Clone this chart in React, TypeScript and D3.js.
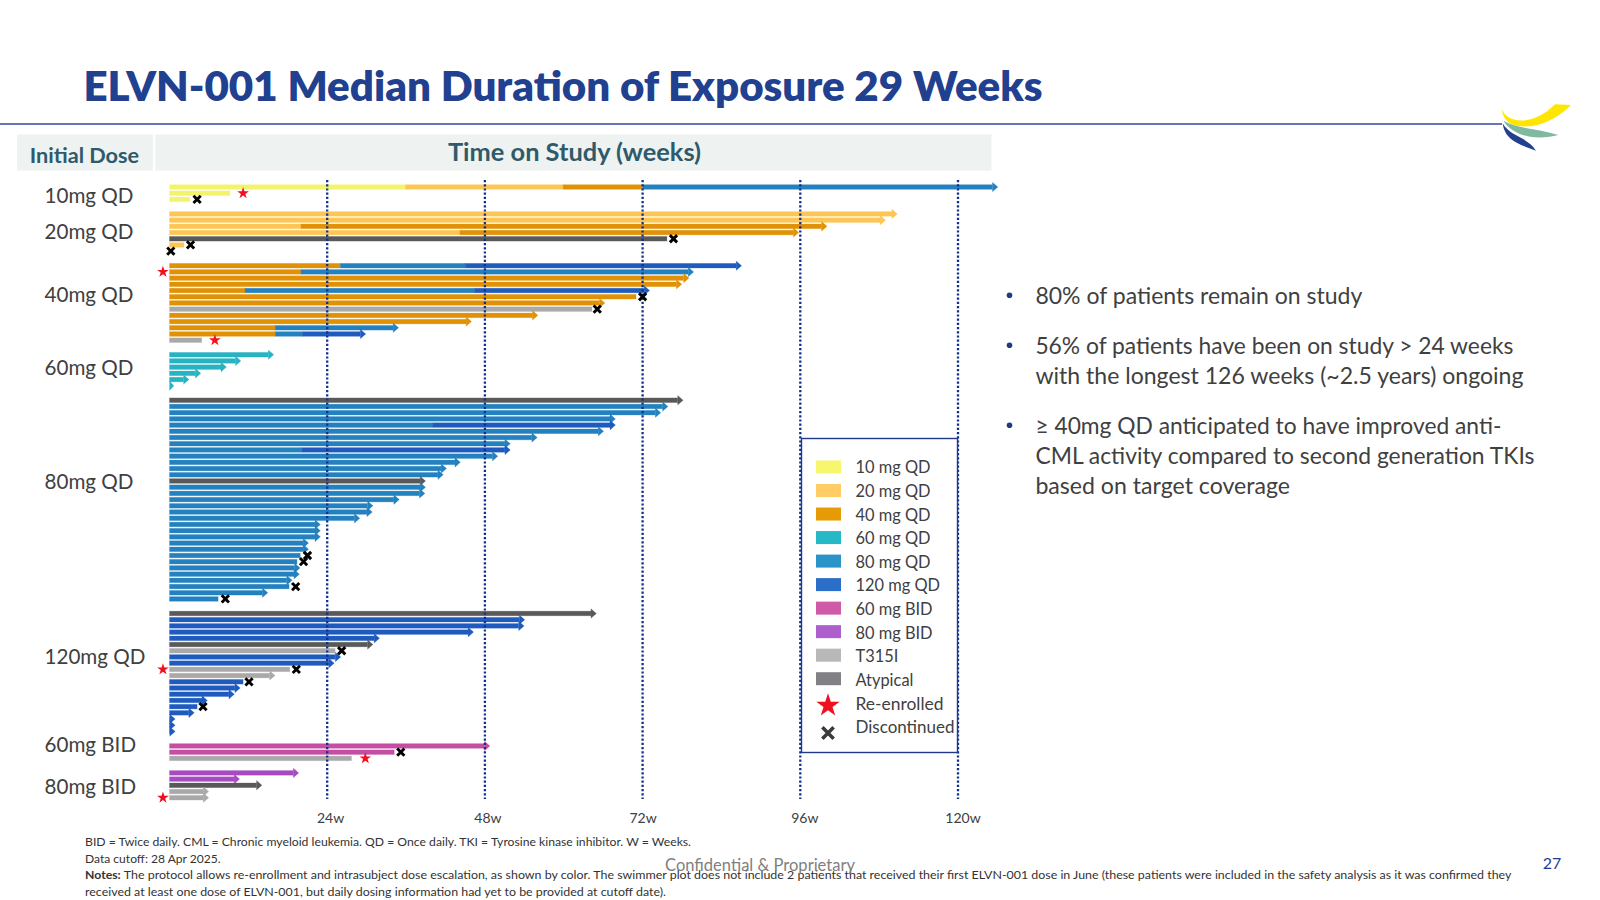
import React from "react";
import * as d3 from "d3";

type Seg = [string, number];
type Row = { segs: Seg[]; arrow?: boolean; x?: number; star?: number };

const doseLabels = ["10 mg QD", "20 mg QD", "40 mg QD", "60 mg QD", "80 mg QD", "120 mg QD", "60 mg BID", "80 mg BID", "T315I", "Atypical"];
const doseKeys = ["d10", "d20", "d40", "d60", "d80", "d120", "b60", "b80", "t", "a"];
const barColors = ["#f4f46c", "#fdc654", "#e09105", "#27b3c2", "#2481bf", "#1f5bbf", "#c44ea3", "#a64cc0", "#a9a9a9", "#595959"];
const legendColors = ["#f7f66f", "#ffcc66", "#e69a05", "#27b8c8", "#2a93c8", "#2a6ec8", "#cf5aa8", "#ad5fcc", "#b8b8b8", "#808085"];
const weekTicks = [24, 48, 72, 96, 120];
const tickLabelShift = [3.4, 3, 0.4, 4.5, 5];

const a = (k: string, w: number): Row => ({ segs: [[k, w]], arrow: true });

const rows10: Row[] = [
  { segs: [["d10", 35.9], ["d20", 59.9], ["d40", 72], ["d80", 126]], arrow: true },
  { segs: [["d10", 9.2]], star: 11.2 },
  { segs: [["d10", 3.1]], x: 4.2 },
];
const rows20: Row[] = [
  a("d20", 110.7),
  a("d20", 108.9),
  { segs: [["d20", 20], ["d40", 100]], arrow: true },
  { segs: [["d20", 44.2], ["d40", 95.7]], arrow: true },
  { segs: [["a", 75.7]], x: 76.7 },
  { segs: [["d20", 2.2]], x: 3.2 },
  { segs: [], x: 0.2 },
];
const rows40: Row[] = [
  { segs: [["d40", 26], ["d80", 45], ["d120", 87]], arrow: true },
  { segs: [["d40", 20], ["d80", 79.7]], arrow: true, star: -1 },
  a("d40", 79),
  a("d40", 77.9),
  { segs: [["d40", 11.5], ["d80", 46.4], ["d120", 73]], arrow: true },
  { segs: [["d40", 71]], x: 72 },
  a("d40", 66.2),
  { segs: [["t", 64.3]], x: 65.1 },
  a("d40", 56),
  a("d40", 45.9),
  { segs: [["d40", 16.1], ["d80", 34.8]], arrow: true },
  { segs: [["d40", 16.1], ["d80", 20.2], ["d120", 29.8]], arrow: true },
  { segs: [["t", 4.9]], star: 6.9 },
];
const rows60: Row[] = [a("d60", 15.8), a("d60", 10.8), a("d60", 8.6), a("d60", 4.7), a("d60", 2.9), a("d60", 0.6)];
const rows80: Row[] = [
  a("a", 78.1),
  a("d80", 75.8),
  a("d80", 74.7),
  a("d80", 67.8),
  { segs: [["d80", 40.1], ["d120", 67.8]], arrow: true },
  a("d80", 66),
  a("d80", 55.9),
  a("d80", 51.8),
  { segs: [["d80", 20.1], ["d120", 51.8]], arrow: true },
  a("d80", 49.9),
  a("d80", 44.2),
  a("d80", 42.1),
  a("d80", 41.6),
  a("a", 38.9),
  a("d80", 38.9),
  a("d80", 38.8),
  a("d80", 34.9),
  a("d80", 30.9),
  a("d80", 30.8),
  a("d80", 28.9),
  a("d80", 22.9),
  a("d80", 22.9),
  a("d80", 22.9),
  a("d80", 21.1),
  a("d80", 21.1),
  { segs: [["d80", 19.9]], x: 21 },
  { segs: [["d80", 19.4]], x: 20.4 },
  a("d80", 19.8),
  a("d80", 19.7),
  a("d80", 18.6),
  { segs: [["d80", 18.2]], x: 19.2 },
  a("d80", 14.9),
  { segs: [["d80", 7.4]], x: 8.5 },
];
const rows120: Row[] = [
  a("a", 64.9),
  a("d120", 54),
  a("d120", 53.9),
  a("d120", 46.2),
  a("d120", 31.9),
  a("a", 30.9),
  { segs: [["t", 25.2]], x: 26.2 },
  a("d120", 26),
  a("d120", 25),
  { segs: [["t", 18.3]], x: 19.3, star: -1 },
  a("t", 16),
  { segs: [["d120", 11.2]], x: 12.1 },
  a("d120", 10.7),
  a("d120", 9.8),
  a("d120", 5.7),
  { segs: [["d120", 4.2]], x: 5.1 },
  a("d120", 3.7),
  a("d120", 0.8),
  a("d120", 0.8),
  a("d120", 0.8),
];
const rowsB60: Row[] = [
  a("b60", 48.7),
  { segs: [["b60", 34.2]], x: 35.2 },
  { segs: [["t", 27.7]], star: 29.8 },
];
const rowsB80: Row[] = [
  a("b80", 19.6),
  a("b80", 10.6),
  a("a", 14),
  a("t", 5.9),
  { segs: [["t", 5.9]], arrow: true, star: -1 },
];

const groupLabels = ["10mg QD", "20mg QD", "40mg QD", "60mg QD", "80mg QD", "120mg QD", "60mg BID", "80mg BID"];
const groupLabelSlots = [1.35, 7.28, 17.35, 29.05, 47.5, 75.7, 89.75, 96.65];
const groups = [rows10, rows20, rows40, rows60, rows80, rows120, rowsB60, rowsB80];

const bullets = [
  ["80% of patients remain on study"],
  ["56% of patients have been on study > 24 weeks", "with the longest 126 weeks (~2.5 years) ongoing"],
  ["≥ 40mg QD anticipated to have improved anti-", "CML activity compared to second generation TKIs", "based on target coverage"],
];
const bulletWidths = [[327], [478, 488], [466, 499, 254.6]];
const bulletYs = [[295.7], [345.7, 375.7], [425.7, 455.7, 486]];

const FONT = "Lato, 'Noto Sans', sans-serif";
const NAVY = "#1f3a8a";
const x = d3.scaleLinear().domain([0, 120]).range([169.5, 958]);
const GAP = 2.335;
const PITCH = 6.21;
const y = d3.scaleLinear().domain([0, 1]).range([187, 187 + PITCH]);
const colorOf = d3.scaleOrdinal<string, string>().domain(doseKeys).range(barColors);
const legendSwatchY = d3.scaleLinear().domain([0, 9]).range([467, 678.7]);
const legendTextY = d3.scaleLinear().domain([0, 9]).range([467.7, 680]);

const placed: { row: Row; slot: number }[] = [];
let cursor = 0;
groups.forEach((g, gi) => {
  if (gi > 0) cursor += GAP - 1;
  g.forEach((row) => {
    placed.push({ row, slot: cursor });
    cursor += 1;
  });
});

const starPath = d3.symbol().type(d3.symbolStar);
const crossPath = d3.symbol().type(d3.symbolX);

function Cross({ cx, cy, size = 36, w = 2.9, color = "#000" }: { cx: number; cy: number; size?: number; w?: number; color?: string }) {
  return <path transform={`translate(${cx},${cy})`} d={crossPath.size(size)() || ""} fill="none" stroke={color} strokeWidth={w} />;
}
function Star({ cx, cy, size = 42 }: { cx: number; cy: number; size?: number }) {
  return <path transform={`translate(${cx},${cy})`} d={starPath.size(size)() || ""} fill="#f01020" />;
}

function Swimmer({ row, slot }: { row: Row; slot: number }) {
  const cy = y(slot);
  let start = 0;
  const last = row.segs.length - 1;
  return (
    <g>
      {row.segs.map(([k, end], i) => {
        const x0 = x(start);
        const tipX = x(end);
        const hasHead = row.arrow && i === last;
        const x1 = hasHead ? Math.max(x0, tipX - 5) : tipX;
        start = end;
        const c = colorOf(k);
        return (
          <g key={i}>
            <rect x={x0} y={cy - 2.3} width={Math.max(0, x1 - x0)} height={4.6} fill={c} stroke={c} strokeOpacity={0.35} strokeWidth={0.8} />
            {hasHead && <polygon points={`${x1},${cy - 4.8} ${tipX + 0.5},${cy} ${x1},${cy + 4.8}`} fill={c} stroke={c} strokeOpacity={0.3} strokeWidth={0.6} />}
          </g>
        );
      })}
    </g>
  );
}

export default function App() {
  return (
    <svg width={1600} height={900} viewBox="0 0 1600 900" style={{ position: "absolute", left: 0, top: 0, display: "block", background: "#fff" }} fontFamily={FONT}>
      <text x={83.5} y={101} fontSize={42} fontWeight={800} fill="#21408f" textLength={959} lengthAdjust="spacingAndGlyphs">
        ELVN-001 Median Duration of Exposure 29 Weeks
      </text>
      <line x1={0} x2={1502} y1={124} y2={124} stroke="#2f4a9c" strokeWidth={1.6} />
      <g transform="translate(1440,90) scale(0.3333)">
        <path d="M185,58 C205,105 285,105 345,43 L393,45 C340,100 265,122 215,103 C198,95 188,78 185,58 Z" fill="#ffe600" />
        <path d="M190,92 C235,118 300,116 355,135 C300,150 225,145 190,92 Z" fill="#7fb99f" />
        <path d="M188,100 C210,140 262,140 288,182 C245,165 195,155 188,100 Z" fill="#22408f" />
      </g>

      <rect x={17} y={134.5} width={135.8} height={36} fill="#eef2f1" />
      <rect x={155.5} y={134.5} width={836} height={36} fill="#eef2f1" />
      <text x={29.7} y={163} fontSize={21} fontWeight={700} fill="#2f5a6b" textLength={109.5} lengthAdjust="spacingAndGlyphs">Initial Dose</text>
      <text x={448} y={160.5} fontSize={24} fontWeight={700} fill="#2f5a6b" textLength={253} lengthAdjust="spacingAndGlyphs">Time on Study (weeks)</text>

      {groupLabels.map((t, i) => (
        <text key={t} x={44.5} y={y(groupLabelSlots[i])} dy="0.35em" fontSize={20.6} fill="#404040">{t}</text>
      ))}

      {placed.map((p, i) => <Swimmer key={i} row={p.row} slot={p.slot} />)}

      {weekTicks.map((w) => (
        <line key={w} x1={x(w)} x2={x(w)} y1={180} y2={799} stroke="#12308a" strokeWidth={2.3} strokeDasharray="2.2 2" />
      ))}

      {placed.map((p, i) => (
        <g key={i}>
          {p.row.x !== undefined && <Cross cx={x(p.row.x)} cy={y(p.slot)} />}
          {p.row.star !== undefined && <Star cx={x(p.row.star)} cy={y(p.slot)} />}
        </g>
      ))}

      {weekTicks.map((w, i) => (
        <text key={w} x={x(w) + tickLabelShift[i]} y={822.5} textAnchor="middle" fontSize={14} fill="#404040">{w}w</text>
      ))}

      <rect x={801.5} y={438.5} width={156} height={314} fill="#fff" stroke={NAVY} strokeWidth={1.4} />
      {doseLabels.map((t, i) => (
        <g key={t}>
          <rect x={816} y={legendSwatchY(i) - 6.5} width={25} height={13} fill={legendColors[i]} />
          <text x={855.5} y={legendTextY(i)} dy="0.35em" fontSize={16.4} fill="#404040">{t}</text>
        </g>
      ))}
      <Star cx={828} cy={705.5} size={170} />
      <text x={855.5} y={704} dy="0.35em" fontSize={16.4} fill="#404040" textLength={88} lengthAdjust="spacingAndGlyphs">Re-enrolled</text>
      <Cross cx={828} cy={733} size={85} w={3.6} color="#3a3a3a" />
      <text x={855.5} y={727.5} dy="0.35em" fontSize={16.4} fill="#404040" textLength={99} lengthAdjust="spacingAndGlyphs">Discontinued</text>

      {bullets.map((lines, i) => (
        <g key={i}>
          <circle cx={1009.5} cy={bulletYs[i][0] - 0.5} r={2.8} fill="#1f3a8a" />
          {lines.map((l, j) => (
            <text key={j} x={1035.4} y={bulletYs[i][j]} dy="0.35em" fontSize={23.5} fill="#404040" textLength={bulletWidths[i][j]} lengthAdjust="spacingAndGlyphs">{l}</text>
          ))}
        </g>
      ))}

      <text x={85} y={841.5} dy="0.35em" fontSize={12} fill="#333" textLength={606} lengthAdjust="spacingAndGlyphs">BID = Twice daily. CML = Chronic myeloid leukemia. QD = Once daily. TKI = Tyrosine kinase inhibitor. W = Weeks.</text>
      <text x={85} y={858.5} dy="0.35em" fontSize={12} fill="#333" textLength={135.7} lengthAdjust="spacingAndGlyphs">Data cutoff: 28 Apr 2025.</text>
      <text x={85} y={875} dy="0.35em" fontSize={12} fontWeight={700} fill="#333" textLength={35.7} lengthAdjust="spacingAndGlyphs">Notes:</text>
      <text x={123.8} y={875} dy="0.35em" fontSize={12} fill="#333" textLength={1387.6} lengthAdjust="spacingAndGlyphs">The protocol allows re-enrollment and intrasubject dose escalation, as shown by color. The swimmer plot does not include 2 patients that received their first ELVN-001 dose in June (these patients were included in the safety analysis as it was confirmed they</text>
      <text x={85} y={891.5} dy="0.35em" fontSize={12} fill="#333" textLength={581} lengthAdjust="spacingAndGlyphs">received at least one dose of ELVN-001, but daily dosing information had yet to be provided at cutoff date).</text>
      <text x={665} y={865.5} dy="0.35em" fontSize={17} fill="#7f7f7f" textLength={190} lengthAdjust="spacingAndGlyphs">Confidential &amp; Proprietary</text>
      <text x={1552} y={863.5} dy="0.35em" textAnchor="middle" fontSize={16} fill="#1f3a8a">27</text>
    </svg>
  );
}
